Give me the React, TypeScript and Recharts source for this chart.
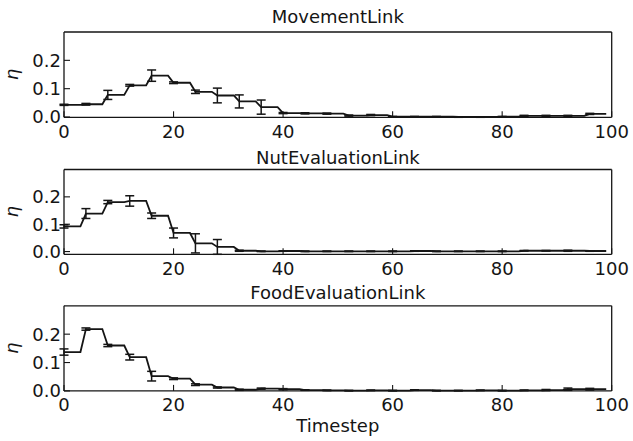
import React from 'react';
import { ComposedChart, Line, Scatter, ErrorBar, XAxis, YAxis } from 'recharts';

// timesteps 0..99, values are constant over blocks of 4 timesteps
const timesteps: number[] = Array.from({ length: 100 }, (_, i) => i);
const blockStarts = [0, 4, 8, 12, 16, 20, 24, 28, 32, 36, 40, 44, 48, 52, 56, 60, 64, 68, 72, 76, 80, 84, 88, 92, 96];

const movementMean = [0.043, 0.045, 0.078, 0.112, 0.146, 0.121, 0.089, 0.076, 0.055, 0.035, 0.014, 0.013, 0.012, 0.005, 0.007, 0.001, 0.001, 0.001, 0.0, 0.0, 0.001, 0.004, 0.004, 0.004, 0.011];
const movementErr = [0.002, 0.003, 0.016, 0.003, 0.02, 0.003, 0.006, 0.026, 0.023, 0.025, 0.002, 0.002, 0.002, 0.002, 0.002, 0.001, 0.001, 0.001, 0.001, 0.001, 0.001, 0.002, 0.002, 0.002, 0.002];

const nutMean = [0.092, 0.139, 0.181, 0.185, 0.131, 0.068, 0.03, 0.017, 0.003, 0.001, 0.002, 0.001, 0.001, 0.001, 0.001, 0.001, 0.002, 0.001, 0.001, 0.001, 0.001, 0.003, 0.003, 0.003, 0.002];
const nutErr = [0.006, 0.018, 0.006, 0.019, 0.01, 0.018, 0.035, 0.027, 0.002, 0.001, 0.001, 0.001, 0.001, 0.001, 0.001, 0.001, 0.001, 0.001, 0.001, 0.001, 0.001, 0.001, 0.001, 0.002, 0.001];

const foodMean = [0.137, 0.218, 0.16, 0.119, 0.052, 0.043, 0.022, 0.012, 0.004, 0.008, 0.006, 0.003, 0.002, 0.001, 0.002, 0.001, 0.003, 0.001, 0.001, 0.002, 0.001, 0.002, 0.003, 0.006, 0.006];
const foodErr = [0.011, 0.004, 0.004, 0.01, 0.017, 0.003, 0.003, 0.002, 0.002, 0.002, 0.002, 0.001, 0.001, 0.001, 0.001, 0.001, 0.001, 0.001, 0.001, 0.001, 0.001, 0.001, 0.002, 0.004, 0.003];

const xTicks = [0, 20, 40, 60, 80, 100];
const yTicks = [0, 0.1, 0.2];
const titles = ['MovementLink', 'NutEvaluationLink', 'FoodEvaluationLink'];
const xLabel = 'Timestep';
const yLabel = 'η';

const W = 633;
const H = 441;
const PLOT_LEFT = 64;
const PLOT_RIGHT = 611.7;
const INK = '#151515';
const FONT = "'DejaVu Sans', 'Bitstream Vera Sans', sans-serif";
const TICK_LEN = 6;
const TICK_FS = 18;

const panels = [
  { title: titles[0], mean: movementMean, err: movementErr, top: 32, bottom: 117.3, titleY: 23.3 },
  { title: titles[1], mean: nutMean, err: nutErr, top: 169.5, bottom: 254.3, titleY: 163.5 },
  { title: titles[2], mean: foodMean, err: foodErr, top: 305.8, bottom: 390.9, titleY: 299 },
];

const BottomTick = (props: any) => {
  const { x, y, payload } = props;
  return (
    <g>
      <line x1={x} y1={y} x2={x} y2={y - TICK_LEN} stroke={INK} strokeWidth={1.1} />
      <text x={x} y={y + 7.6} dy="0.71em" textAnchor="middle" fontSize={TICK_FS} fill={INK} fontFamily={FONT}>
        {payload.value}
      </text>
    </g>
  );
};

const TopTick = (props: any) => {
  const { x, y } = props;
  return <line x1={x} y1={y} x2={x} y2={y + TICK_LEN} stroke={INK} strokeWidth={1.1} />;
};

const LeftTick = (props: any) => {
  const { x, y, payload } = props;
  return (
    <g>
      <line x1={x} y1={y} x2={x + TICK_LEN} y2={y} stroke={INK} strokeWidth={1.1} />
      <text x={x - 3} y={y} dy="0.355em" textAnchor="end" fontSize={TICK_FS} fill={INK} fontFamily={FONT}>
        {Number(payload.value).toFixed(1)}
      </text>
    </g>
  );
};

const RightTick = (props: any) => {
  const { x, y } = props;
  return <line x1={x} y1={y} x2={x - TICK_LEN} y2={y} stroke={INK} strokeWidth={1.1} />;
};

const NoShape = () => <g />;

function Panel({ p }: { p: (typeof panels)[number] }) {
  const lineData = timesteps.map((t) => ({ t, v: p.mean[Math.floor(t / 4)] }));
  const errData = blockStarts.map((t, k) => ({ t, v: p.mean[k], e: p.err[k] }));
  const axisLine = { stroke: INK, strokeWidth: 1.3 };
  const bottomH = 25;
  const topH = 5;
  return (
    <div style={{ position: 'absolute', left: 0, top: 0 }}>
      <ComposedChart
        width={W}
        height={H}
        margin={{ top: p.top - topH, bottom: H - p.bottom - bottomH, left: 0, right: 0 }}
      >
        <XAxis
          xAxisId="b"
          dataKey="t"
          type="number"
          domain={[0, 100]}
          ticks={xTicks}
          height={bottomH}
          tickSize={0}
          tickMargin={0}
          axisLine={axisLine}
          tickLine={false}
          tick={BottomTick}
          interval={0}
        />
        <XAxis
          xAxisId="t"
          orientation="top"
          dataKey="t"
          type="number"
          domain={[0, 100]}
          ticks={xTicks}
          height={topH}
          tickSize={0}
          tickMargin={0}
          axisLine={axisLine}
          tickLine={false}
          tick={TopTick}
          interval={0}
        />
        <YAxis
          yAxisId="l"
          type="number"
          domain={[0, 0.3]}
          ticks={yTicks}
          width={PLOT_LEFT}
          tickSize={0}
          tickMargin={0}
          axisLine={axisLine}
          tickLine={false}
          tick={LeftTick}
          interval={0}
        />
        <YAxis
          yAxisId="r"
          orientation="right"
          type="number"
          domain={[0, 0.3]}
          ticks={yTicks}
          width={W - PLOT_RIGHT}
          tickSize={0}
          tickMargin={0}
          axisLine={axisLine}
          tickLine={false}
          tick={RightTick}
          interval={0}
        />
        <Line
          xAxisId="b"
          yAxisId="l"
          data={lineData}
          dataKey="v"
          type="linear"
          stroke={INK}
          strokeWidth={1.8}
          dot={false}
          activeDot={false}
          isAnimationActive={false}
        />
        <Scatter
          xAxisId="b"
          yAxisId="l"
          data={errData}
          dataKey="v"
          shape={NoShape}
          isAnimationActive={false}
        >
          <ErrorBar dataKey="e" direction="y" width={4.5} stroke={INK} strokeWidth={1.5} isAnimationActive={false} />
        </Scatter>
      </ComposedChart>
    </div>
  );
}

export default function App() {
  const cx = (PLOT_LEFT + PLOT_RIGHT) / 2;
  return (
    <div style={{ position: 'absolute', left: 0, top: 0, width: W, height: H, background: '#fff' }}>
      {panels.map((p) => (
        <Panel key={p.title} p={p} />
      ))}
      <svg width={W} height={H} style={{ position: 'absolute', left: 0, top: 0, pointerEvents: 'none' }}>
        {panels.map((p) => (
          <g key={p.title}>
            <text x={cx} y={p.titleY} textAnchor="middle" fontSize={18} fill={INK} fontFamily={FONT}>
              {p.title}
            </text>
            <text
              x={0}
              y={0}
              transform={`translate(18, ${(p.top + p.bottom) / 2}) rotate(-90)`}
              textAnchor="middle"
              fontSize={18}
              fontStyle="italic"
              fill={INK}
              fontFamily={FONT}
            >
              {yLabel}
            </text>
          </g>
        ))}
        <text x={cx} y={431.7} textAnchor="middle" fontSize={18} fill={INK} fontFamily={FONT}>
          {xLabel}
        </text>
      </svg>
    </div>
  );
}
